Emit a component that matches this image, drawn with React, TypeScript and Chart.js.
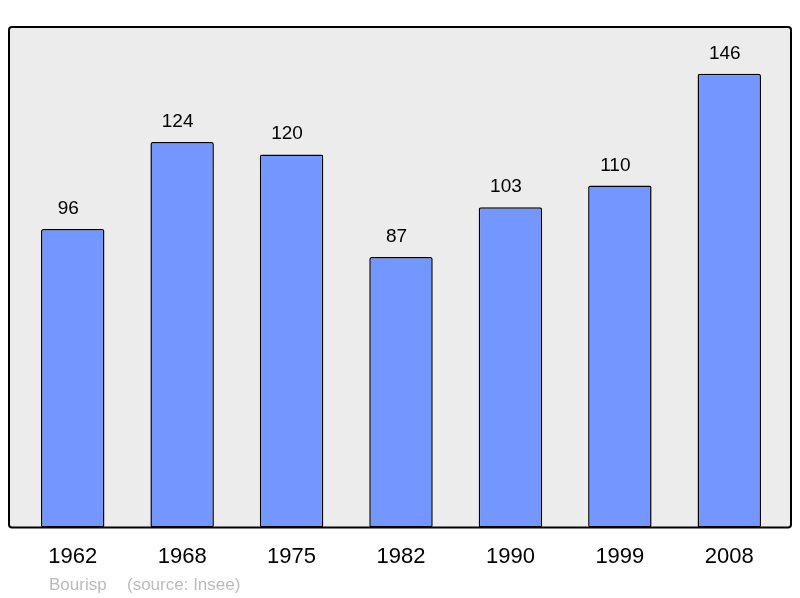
import React, { useEffect, useRef } from "react";
import { Chart, registerables } from "chart.js";

Chart.register(...registerables);

const years = ["1962", "1968", "1975", "1982", "1990", "1999", "2008"];
const population = [96, 124, 120, 87, 103, 110, 146];
const yMax = 161;
const authorText = "Bourisp";
const sourceText = "(source: Insee)";

const FONT = "'Liberation Sans', Arial, sans-serif";

const framePlugin = {
  id: "frame",
  beforeDatasetsDraw(chart: any) {
    const { ctx, chartArea } = chart;
    ctx.save();
    ctx.beginPath();
    ctx.roundRect(9, chartArea.top, 782, chartArea.bottom - chartArea.top, 3);
    ctx.fillStyle = "#ececec";
    ctx.fill();
    ctx.restore();
  },
  afterDatasetsDraw(chart: any) {
    const { ctx, chartArea } = chart;
    ctx.save();
    ctx.beginPath();
    ctx.roundRect(9, chartArea.top, 782, chartArea.bottom - chartArea.top, 3);
    ctx.lineWidth = 2;
    ctx.strokeStyle = "#000";
    ctx.stroke();
    // value labels
    const meta = chart.getDatasetMeta(0);
    ctx.fillStyle = "#000";
    ctx.font = `19px ${FONT}`;
    ctx.textAlign = "center";
    ctx.textBaseline = "alphabetic";
    meta.data.forEach((bar: any, i: number) => {
      ctx.fillText(String(population[i]), bar.x - 4.5, bar.y - 15);
    });
    // footer
    ctx.font = `17px ${FONT}`;
    ctx.fillStyle = "#bbbbbb";
    ctx.textAlign = "left";
    ctx.fillText(authorText, 49, 590);
    ctx.fillText(sourceText, 127, 590);
    ctx.restore();
  },
};

export default function App() {
  const ref = useRef<HTMLCanvasElement | null>(null);
  useEffect(() => {
    if (!ref.current) return;
    const chart = new Chart(ref.current, {
      type: "bar",
      data: {
        labels: years,
        datasets: [
          {
            data: population,
            backgroundColor: "#7396ff",
            borderColor: "#000",
            borderWidth: 1.5,
            borderSkipped: false,
            borderRadius: 2,
            barPercentage: 0.58,
            categoryPercentage: 1,
          },
        ],
      },
      options: {
        animation: false,
        responsive: false,
        maintainAspectRatio: false,
        layout: { padding: { left: 18, right: 16, top: 27, bottom: 12 } },
        plugins: { legend: { display: false }, tooltip: { enabled: false } },
        scales: {
          x: {
            grid: { display: false, drawTicks: false },
            border: { display: false },
            ticks: { color: "#000", font: { size: 22, family: FONT }, padding: 16 },
          },
          y: { display: false, min: 0, max: yMax },
        },
      },
      plugins: [framePlugin],
    });
    return () => chart.destroy();
  }, []);
  return (
    <div style={{ position: "fixed", left: 0, top: 0, width: 800, height: 598, background: "#fff" }}>
      <canvas ref={ref} width={800} height={598} style={{ width: 800, height: 598 }} />
    </div>
  );
}
